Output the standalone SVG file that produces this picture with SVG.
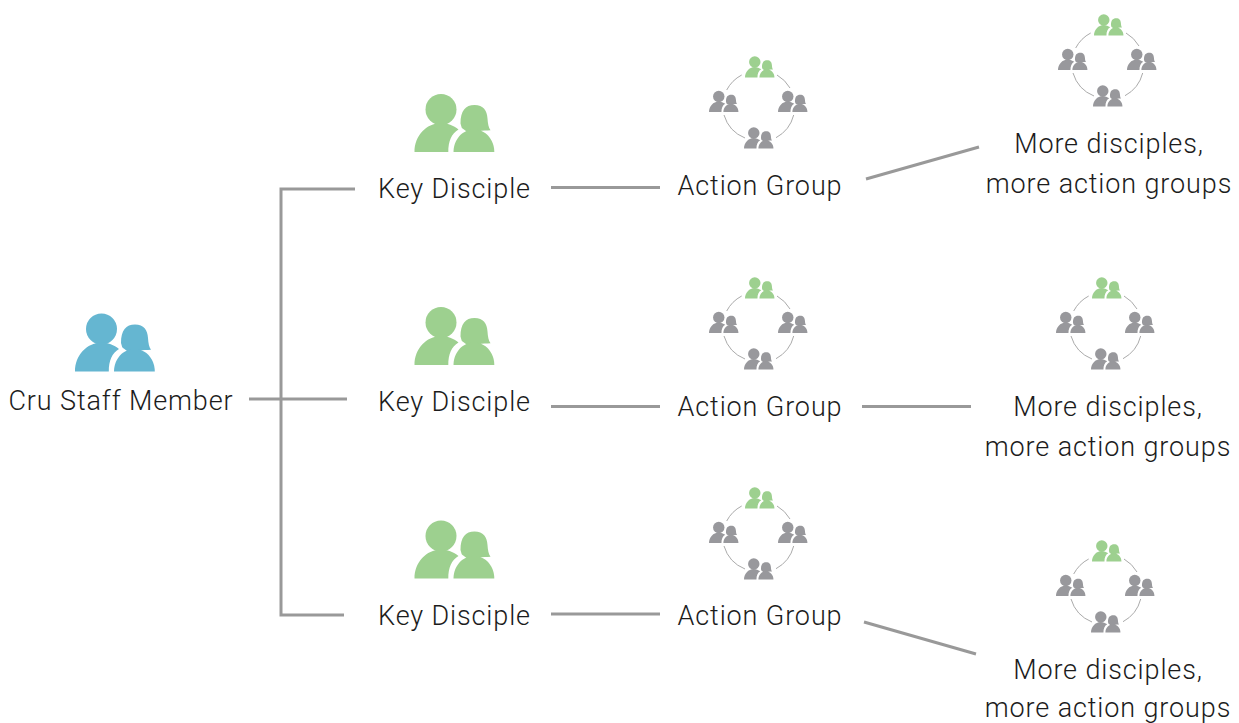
<svg xmlns="http://www.w3.org/2000/svg" width="1239" height="723" viewBox="0 0 1239 723">
<style>
text{font-family:Roboto,"Liberation Sans",sans-serif;font-weight:300;font-size:27px;letter-spacing:0.88px;fill:#1c1c1c;text-anchor:middle}
.c{fill:none;stroke:#999;stroke-width:3}
.a{fill:none;stroke:#aaa;stroke-width:1}
.b{fill:#65b6d1}.g{fill:#9dd08f}.k{fill:#98989c}
</style>
<defs>
<symbol id="p" viewBox="0 0 80 59" overflow="visible">
<circle cx="26.5" cy="16" r="15.5"/>
<path d="M0 58.500C0 42 12 30 26 29.500C33 29.500 39 32 44 36C37 40 33.800 48 33.800 58.500Z"/>
<path d="M46 30C46 17 51 11.500 60 11.500C69 11.500 72.500 17 73 25C73.300 30 74 34 76 36.800C72 37 68 37 64 38L52 38C50 36 47 35 47 33.500Z"/>
<path d="M39 58.500C39 46 48 36 59.500 36C71 36 79.800 46 79.800 58.500Z"/>
</symbol>
<g id="cluster">
<use href="#p" class="g" x="745" y="56" width="29.500" height="21.800"/>
<use href="#p" class="k" x="709" y="90.500" width="29.500" height="21.800"/>
<use href="#p" class="k" x="778" y="90.500" width="29.500" height="21.800"/>
<use href="#p" class="k" x="744" y="127" width="29.500" height="21.800"/>
<path class="a" d="M741.700 75A35.800 35.800 0 0 0 726.700 90M777 75A35.800 35.800 0 0 1 790 88M793.700 115A35.800 35.800 0 0 1 776 137.700M745 138A35.800 35.800 0 0 1 724 115"/>
</g>
</defs>
<g id="connectors">
<path class="c" d="M355 189H281V615H344M249 399H347"/>
<path class="c" d="M551 187.500H660M551 406.500H660M551 614H660"/>
<path class="c" d="M866 179L979 147M862 406.500H971M864 622L976 654"/>
</g>
<g id="staff"><use href="#p" class="b" x="75" y="313" width="80" height="59"/><text x="121" y="410">Cru Staff Member</text></g>
<g id="key1"><use href="#p" class="g" x="414.500" y="93.500" width="80" height="59"/><text x="454.500" y="198">Key Disciple</text></g>
<g id="key2"><use href="#p" class="g" x="414.500" y="306.500" width="80" height="59"/><text x="454.500" y="411">Key Disciple</text></g>
<g id="key3"><use href="#p" class="g" x="414.500" y="520" width="80" height="59"/><text x="454.500" y="625">Key Disciple</text></g>
<g id="group1"><use href="#cluster"/><text x="760" y="195">Action Group</text></g>
<g id="group2"><use href="#cluster" y="221"/><text x="760" y="416">Action Group</text></g>
<g id="group3"><use href="#cluster" y="431"/><text x="760" y="625">Action Group</text></g>
<g id="more1"><use href="#cluster" x="349" y="-42"/><text x="1109" y="153">More disciples,</text><text x="1109" y="193">more action groups</text></g>
<g id="more2"><use href="#cluster" x="347" y="221"/><text x="1108" y="416">More disciples,</text><text x="1108" y="456">more action groups</text></g>
<g id="more3"><use href="#cluster" x="347" y="484"/><text x="1108" y="679">More disciples,</text><text x="1108" y="717">more action groups</text></g>
</svg>
